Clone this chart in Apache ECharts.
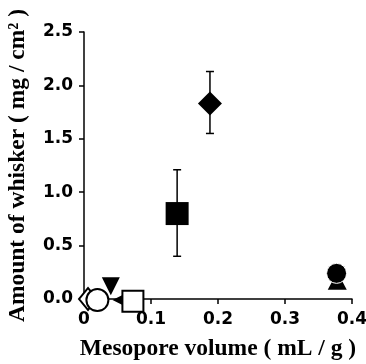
<!DOCTYPE html>
<html>
<head>
<meta charset="utf-8">
<style>html,body{margin:0;padding:0;background:#fff;}#c{width:366px;height:364px;}</style>
<script src="https://cdn.jsdelivr.net/npm/echarts@6/dist/echarts.min.js"></script>
</head>
<body>
<div id="c"></div>
<script>
// Data
const pointNames = ['filledDiamond','filledSquare','filledTriangle','filledCircle','openDiamond','smallTriangle','openCircle','invTriangle','openSquare'];
const xValues   = [0.188, 0.139, 0.378, 0.377, 0.006, 0.05, 0.02, 0.04, 0.073];
const yValues   = [1.83, 0.80, 0.17, 0.24, 0.0, -0.01, -0.01, 0.12, -0.02];
const errLow    = [1.55, 0.40, null, null, null, null, null, null, null];
const errHigh   = [2.13, 1.21, null, null, null, null, null, null, null];
const xTicks = [0, 0.1, 0.2, 0.3, 0.4];
const yTicks = [0, 0.5, 1.0, 1.5, 2.0, 2.5];

const styles = {
  filledDiamond: {symbol:'diamond', size:[24,24], fill:'#000'},
  filledSquare: {symbol:'rect', size:[23,23], fill:'#000'},
  filledTriangle: {symbol:'triangle', size:[19,18], fill:'#000'},
  filledCircle: {symbol:'circle', size:20, fill:'#000', border:'#fff', bw:1},
  openDiamond: {symbol:'diamond', size:[18,22], fill:'#fff', border:'#000', bw:2},
  smallTriangle: {symbol:'triangle', size:[10,10], fill:'#000', rotate:90},
  openCircle: {symbol:'circle', size:22, fill:'#fff', border:'#000', bw:2},
  invTriangle: {symbol:'triangle', size:[18,18], fill:'#000', rotate:180},
  openSquare: {symbol:'rect', size:[21,21], fill:'#fff', border:'#000', bw:2}
};

const chart = echarts.init(document.getElementById('c'));
const series = [];
// error bars
const errData = [];
for (let i = 0; i < xValues.length; i++) {
  if (errLow[i] != null) errData.push([xValues[i], errLow[i], errHigh[i]]);
}
series.push({
  type:'custom',
  data: errData,
  z: 1,
  clip: false,
  renderItem: function(params, api) {
    const x = api.value(0);
    const lo = api.coord([x, api.value(1)]);
    const hi = api.coord([x, api.value(2)]);
    const cw = 4;
    const st = {stroke:'#000', lineWidth:1.5};
    return {type:'group', children:[
      {type:'line', shape:{x1:lo[0], y1:lo[1], x2:hi[0], y2:hi[1]}, style:st},
      {type:'line', shape:{x1:lo[0]-cw, y1:lo[1], x2:lo[0]+cw, y2:lo[1]}, style:st},
      {type:'line', shape:{x1:hi[0]-cw, y1:hi[1], x2:hi[0]+cw, y2:hi[1]}, style:st}
    ]};
  }
});
pointNames.forEach(function(n, i) {
  const s = styles[n];
  series.push({
    type:'scatter',
    name:n,
    clip:false,
    z: 2 + i,
    symbol:s.symbol,
    symbolSize:s.size,
    symbolRotate:s.rotate || 0,
    itemStyle:{color:s.fill, borderColor:s.border || s.fill, borderWidth:s.bw || 0, opacity:1},
    data:[[xValues[i], yValues[i]]]
  });
});

chart.setOption({
  animation:false,
  backgroundColor:'#fff',
  grid:{left:84, right:14, top:32, bottom:65, containLabel:false, outerBoundsMode:'none'},
  xAxis:{
    type:'value', min:xTicks[0], max:xTicks[xTicks.length-1], interval:0.1,
    name:'Mesopore volume ( mL / g )', nameLocation:'middle', nameGap:38,
    nameTextStyle:{fontFamily:'Liberation Serif', fontWeight:'bold', fontSize:23.5, color:'#000'},
    axisLine:{show:true, onZero:false, lineStyle:{color:'#000', width:1.5}},
    axisTick:{show:true, inside:false, length:5, lineStyle:{color:'#000', width:1.5}},
    axisLabel:{margin:12, fontFamily:'DejaVu Sans', fontWeight:'bold', fontSize:17, color:'#000',
      formatter:function(v){ return v === 0 ? '0' : v.toFixed(1); }},
    splitLine:{show:false}
  },
  yAxis:{
    type:'value', min:yTicks[0], max:yTicks[yTicks.length-1], interval:0.5,
    name:'Amount of whisker ( mg / cm\u00b2 )', nameLocation:'middle', nameGap:54,
    nameTextStyle:{fontFamily:'Liberation Serif', fontWeight:'bold', fontSize:23.5, color:'#000'},
    axisLine:{show:true, lineStyle:{color:'#000', width:1.5}},
    axisTick:{show:true, inside:false, length:5, lineStyle:{color:'#000', width:1.5}},
    axisLabel:{margin:11, fontFamily:'DejaVu Sans', fontWeight:'bold', fontSize:17, color:'#000',
      formatter:function(v){ return v.toFixed(1); }},
    splitLine:{show:false}
  },
  series:series
});
</script>
</body>
</html>
